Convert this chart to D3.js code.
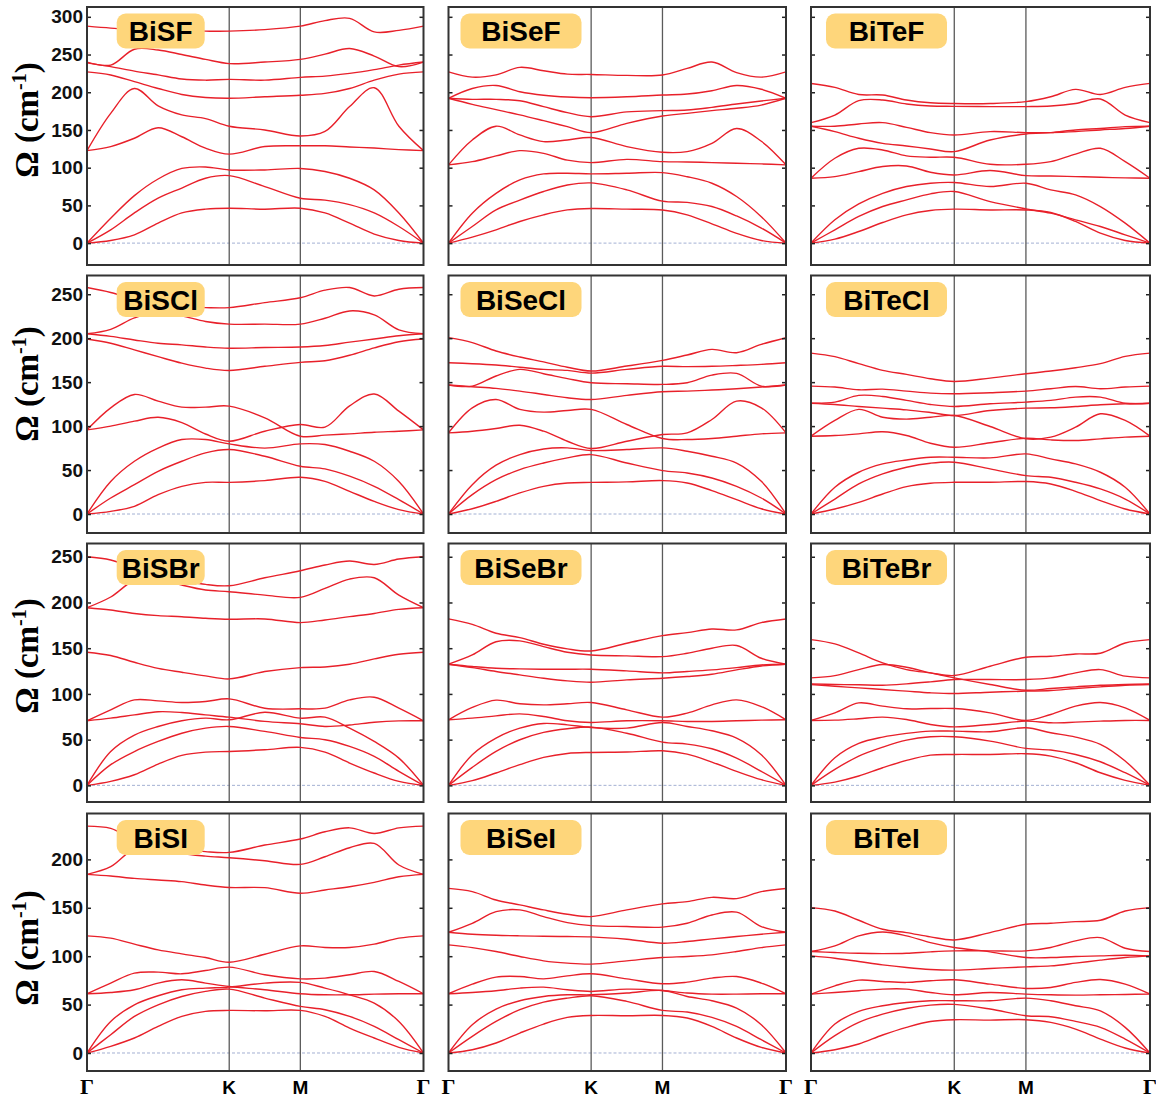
<!DOCTYPE html>
<html>
<head>
<meta charset="utf-8" />
<title>Phonon dispersion BiXY</title>
<script src="https://cdn.jsdelivr.net/npm/d3@7/dist/d3.min.js"></script>
<style>
  body { margin: 0; background: #fff; }
</style>
</head>
<body>
<div id="canvas"></div>
<script>
// k-path sample positions (path length, Γ-K-M-Γ of a hexagonal BZ)
const kpts = [0, 0.2222, 0.4444, 0.6667, 0.8889, 1.1111, 1.3333, 1.6667, 2.0, 2.2309, 2.4619, 2.6928, 2.9238, 3.1547];
const kTicks = [0, 1.3333, 2.0, 3.1547];
const kLabels = ["Γ", "K", "M", "Γ"];

const compounds = [
  ["BiSF", "BiSeF", "BiTeF"],
  ["BiSCl", "BiSeCl", "BiTeCl"],
  ["BiSBr", "BiSeBr", "BiTeBr"],
  ["BiSI", "BiSeI", "BiTeI"]
];
const yTickRows = [
  [0, 50, 100, 150, 200, 250, 300],
  [0, 50, 100, 150, 200, 250],
  [0, 50, 100, 150, 200, 250],
  [0, 50, 100, 150, 200]
];
const yDomainRows = [[-29, 313], [-21.6, 271.3], [-18.2, 264.5], [-18.6, 247.4]];

// phonon branches (cm^-1) at kpts
const BiSF = [
  [287.6, 285, 283, 282, 281.5, 281, 281, 283, 287.6, 295, 298, 280, 282, 287.6],
  [240, 236, 257, 256, 250, 243.5, 238, 240, 243.5, 250.5, 258, 248, 234, 240],
  [239, 234, 228, 223, 217.5, 216, 217, 216, 219.7, 221.4, 225, 230, 236, 240],
  [227, 222.8, 214, 205, 197, 193, 192, 194, 196, 198.5, 205, 216, 224, 227],
  [122.6, 172, 205, 182, 170, 165, 155, 150, 142, 148, 181, 206, 155, 122.6],
  [122.6, 128, 139, 153, 141, 126, 118, 128, 129, 129, 127.5, 126, 124, 122.6],
  [0, 33, 63, 85, 99, 101, 97, 97, 99, 95, 86, 70.6, 40, 0],
  [0, 17.6, 40, 59.5, 73, 86, 89.5, 75, 59.5, 57, 51, 40, 22, 0],
  [0, 3.5, 11, 26.5, 40, 45, 46.3, 45, 46.3, 40, 26.5, 12, 3.5, 0]
];
const BiSeF = [
  [227, 220, 223, 233, 228.5, 224, 223.6, 222.3, 222.8, 231.6, 240, 226, 220, 227],
  [192, 205, 209, 200.7, 196, 193.6, 192.8, 194, 196.3, 197.6, 202, 209, 204, 192],
  [192, 190.6, 190.6, 188.8, 180.9, 173, 167.6, 174, 175.6, 176.4, 180, 184.4, 188.4, 192],
  [192, 184, 177, 170, 162.3, 154.4, 146.5, 158.8, 168.5, 172, 175.6, 178.7, 183, 192],
  [103.7, 136.7, 155, 143.4, 134.5, 136.7, 140, 128, 120.4, 121.3, 132.3, 152, 135, 103.7],
  [103.7, 108, 115.6, 122.6, 119, 110, 106.7, 111, 108, 107.6, 106.7, 105.9, 105, 103.7],
  [0, 39.7, 66, 83.8, 91.8, 92.6, 91.8, 92.6, 93.5, 88, 79.4, 61.8, 35, 0],
  [0, 22, 44, 57, 68.4, 77, 79.8, 70.6, 55.6, 54, 48.5, 36, 20, 0],
  [0, 8, 17.6, 28.7, 37.5, 44, 45.9, 45, 44, 37.5, 25.6, 13, 3.5, 0]
];
const BiTeF = [
  [211.7, 206.4, 197, 196.3, 189.7, 186, 185, 185, 187.5, 194, 203.8, 197, 206.4, 211.7],
  [159.7, 169.8, 188.8, 189.7, 184.4, 181.7, 181.3, 181, 181, 181.7, 185, 191, 169.8, 159.7],
  [155, 155, 158, 159.7, 153.5, 146.5, 143.4, 147.8, 146.5, 146.5, 147.8, 150, 152, 155],
  [155, 147.8, 139, 132.3, 128.8, 124.8, 121.3, 136.7, 144.7, 146.5, 150, 152, 154.4, 155],
  [86, 112.5, 125.7, 123.5, 115.6, 113.8, 113.8, 104.5, 104.5, 108, 118, 125.7, 108, 86],
  [86, 88.2, 94.8, 101.5, 102.3, 94, 90.4, 96.2, 89.5, 89, 88.2, 87.3, 86.5, 86],
  [0, 30.9, 52, 66, 75, 79.4, 80.3, 75, 79.4, 70.6, 64, 48.5, 26.5, 0],
  [0, 17.6, 35.3, 48.5, 57.3, 65.3, 68.4, 55, 45.4, 39.7, 30.9, 22, 11, 0],
  [0, 5.3, 15.4, 27.3, 37.5, 43.2, 45, 44, 44, 40.6, 28.7, 13.2, 3.5, 0]
];
const BiSCl = [
  [257.6, 252, 244, 239, 236, 234.8, 234.8, 240.5, 246, 254.6, 257.6, 248, 255.7, 257.6],
  [205, 210, 223, 230, 225.4, 219, 216, 216, 216, 222.7, 231, 226.5, 209.5, 205],
  [205, 202, 198, 194.3, 192.4, 190, 188.6, 189.4, 190, 191.7, 195.5, 199, 202.7, 205],
  [199, 194.3, 186.7, 179, 171.6, 166, 163.3, 168, 172.5, 174.4, 180.6, 189, 196, 199],
  [95.7, 120.8, 136, 128.4, 121.6, 121.6, 122.7, 109.4, 88.5, 89.7, 91.2, 93, 94.2, 95.7],
  [95.7, 100, 105.6, 110, 104, 91, 82.8, 94.2, 101.8, 98.8, 123, 136.5, 117, 95.7],
  [0, 37, 60, 75, 84.7, 84.7, 79.8, 75, 79.8, 79, 71.4, 60, 37, 0],
  [0, 18.2, 33.4, 48.6, 60, 69.5, 73.3, 65.7, 54.3, 51.3, 43, 31.5, 16.3, 0],
  [0, 3, 8.7, 22, 31.5, 36, 36, 38, 41.8, 37.2, 25.8, 14.4, 5, 0]
];
const BiSeCl = [
  [200.6, 195, 185.4, 178.6, 173, 167, 162.6, 168.3, 174.8, 180.9, 187.3, 183.5, 193, 200.6],
  [172, 171, 169.5, 167, 164.5, 163.4, 160.3, 164.5, 168, 167.6, 168, 169, 170.2, 172],
  [146.7, 145.5, 157, 164.5, 159.6, 154, 149.3, 148.2, 147.4, 149.3, 158, 160, 145.5, 146.7],
  [146.7, 144.8, 142.9, 139.8, 136, 132.2, 130.3, 135, 139, 139.8, 141, 142.5, 144.4, 146.7],
  [92.3, 120.8, 130.3, 119, 115.9, 117.8, 119, 101.8, 85.9, 84.7, 85.9, 88.5, 91.2, 92.3],
  [92.3, 94.2, 97.3, 101, 94.2, 82.8, 74.5, 82.8, 90.4, 92.3, 107.5, 128.4, 120.8, 92.3],
  [0, 33.4, 55.5, 67.6, 74, 75.2, 72.2, 73.3, 75.2, 71.4, 65.7, 58, 37.2, 0],
  [0, 22, 39, 50.5, 58, 63.8, 67.6, 58, 49.4, 46.7, 41, 31.5, 18.2, 0],
  [0, 6, 14.4, 24, 31.5, 35.3, 36, 36.5, 38, 35.3, 26.6, 16.3, 6, 0]
];
const BiTeCl = [
  [183, 179, 171, 163.4, 158.8, 153.9, 150.8, 154.6, 159.6, 162.6, 166.4, 171, 179.3, 183],
  [145.5, 144.4, 141.3, 142, 139.8, 137.5, 136.8, 138, 139.8, 142.5, 145, 142.5, 144.4, 145.5],
  [126.1, 127.3, 134.9, 133.7, 129.2, 124.6, 122.3, 125.4, 127.3, 129.2, 133, 133, 126, 126],
  [126, 124.6, 122.3, 120.4, 118.5, 115.5, 112, 117.8, 120.4, 120.8, 122.3, 124.2, 125.4, 126],
  [88.5, 106.4, 119, 110, 107.9, 110, 112, 99.5, 85.5, 87.4, 98.8, 114, 106.4, 88.5],
  [88.5, 89.3, 91.2, 93.5, 89.3, 80.5, 76, 81, 86.2, 84.3, 83.6, 85.5, 87.4, 88.5],
  [0, 30.4, 47.5, 57, 61.5, 64.6, 64.6, 63.8, 68.4, 62.7, 57, 47.5, 30.4, 0],
  [0, 17, 34.2, 45.6, 53.2, 57.8, 58.9, 51.3, 43.7, 41.8, 36.1, 28.5, 17, 0],
  [0, 5.7, 13.3, 22.8, 31.2, 35, 36.1, 36.1, 36.9, 34.2, 25.8, 15.2, 5.7, 0]
];
const BiSBr = [
  [250, 246.4, 237, 229, 224.5, 219.8, 218.3, 227, 234.7, 241, 245.3, 241.6, 247.5, 250],
  [194.3, 206, 224, 226, 219, 213.6, 211.8, 208, 205.6, 215.4, 225.6, 227, 208, 194.3],
  [194.3, 191.8, 188, 185.6, 184.4, 182.7, 181.6, 182, 178, 180.9, 184.5, 188, 192.5, 194.3],
  [145.6, 142, 134.6, 128, 123.7, 119.7, 116.4, 124.5, 128.8, 129.5, 132.5, 138.3, 143.4, 145.6],
  [70.6, 82.6, 93.5, 92.4, 90.6, 91.7, 94.6, 84.4, 83.7, 84.4, 93.5, 96.4, 84.4, 70.6],
  [70.6, 73.5, 77.1, 80.5, 79.7, 77.1, 74.6, 70, 67.3, 64.4, 66, 69, 70.5, 70.6],
  [0, 37, 55, 64.4, 70.6, 73.5, 71.7, 80, 73.5, 74.6, 62.6, 48, 29.8, 0],
  [0, 22.6, 37, 48, 57, 62.6, 64.4, 59, 52.4, 49.9, 42.6, 31.7, 15.3, 0],
  [0, 4.4, 11.6, 23.3, 32.8, 36.4, 37.1, 39, 41.5, 36.4, 24.4, 13.5, 4.4, 0]
];
const BiSeBr = [
  [182, 176, 166.3, 161.6, 154.3, 149.2, 147, 155.4, 163.8, 167, 171, 170, 178, 182],
  [132.5, 142.6, 157, 158, 151.7, 145.6, 142.6, 141.6, 140.8, 144.5, 150, 153, 139, 132.5],
  [132.5, 130, 128, 127.4, 127, 127, 127, 125.2, 123, 124.5, 126.3, 128.8, 131.7, 132.5],
  [132.5, 128.8, 124.5, 120.8, 117.2, 114.3, 112.8, 115.4, 117.2, 119, 121.5, 126.3, 130.6, 132.5],
  [71.7, 85.2, 93.2, 89.2, 88, 89.2, 90.6, 82.6, 74.6, 79, 88, 93.5, 86.2, 71.7],
  [71.7, 73.5, 76, 78.2, 75.3, 70.6, 68.8, 70.6, 70.6, 69.9, 69.9, 70.6, 71.3, 71.7],
  [0, 33.5, 51.7, 62.6, 67.7, 66.2, 63.3, 62.6, 68.8, 64.4, 59.7, 51.7, 33.5, 0],
  [0, 19.7, 37.1, 49.9, 57.9, 61.9, 63.7, 57, 47.3, 45.1, 40, 29.8, 15.3, 0],
  [0, 5.1, 13.5, 22.6, 30.6, 34.9, 36, 36.4, 37.8, 34.2, 25.5, 15.3, 6.2, 0]
];
const BiTeBr = [
  [159.4, 154.7, 144.8, 133.9, 126.6, 123, 120.1, 130.3, 140.1, 141.2, 143.7, 144.5, 155.7, 159.4],
  [117.5, 120, 126.6, 132.1, 129.2, 123, 117.5, 110.3, 104, 105.9, 107.7, 109.5, 110.3, 111],
  [111, 110.3, 110, 109.5, 111, 113.2, 115.7, 115.7, 115.7, 117.5, 123, 126.6, 119.4, 117.5],
  [110.3, 108.4, 106.6, 104.8, 103, 101.2, 100.4, 101.9, 103, 103.7, 105.9, 107.7, 109.5, 110.3],
  [71, 79.3, 90.2, 86.6, 83.7, 84, 84, 79.3, 71, 77.5, 86.6, 90.6, 84.8, 71],
  [71, 71.3, 72.8, 74.6, 72, 66.6, 64, 66.6, 70.2, 68.4, 69.1, 70.2, 71, 71],
  [0, 30.2, 45.9, 52.8, 56.8, 59.3, 59.3, 58.6, 63, 57.5, 52.8, 44.8, 26.6, 0],
  [0, 17.5, 32, 41.8, 49.5, 53.1, 53.1, 48.4, 40.4, 38.6, 33.8, 25.8, 13.8, 0],
  [0, 3.6, 10.2, 19.3, 27.3, 33.1, 33.8, 33.8, 34.6, 32, 24.7, 13.8, 5.5, 0]
];
const BiSI = [
  [234.4, 232, 220, 213, 210.7, 208, 207.2, 214.8, 221, 228.5, 232.6, 226.8, 232.6, 234.4],
  [184.5, 192.4, 210.7, 211.3, 206, 203.4, 201.7, 198.6, 194.8, 202.7, 212, 216.5, 194.2, 184.5],
  [184.5, 182.8, 180.4, 178.7, 177, 173.5, 171, 170.8, 165, 168.4, 171.8, 176.3, 182, 184.5],
  [121, 118.6, 112.4, 106.5, 102.4, 98.6, 93.8, 102, 110.7, 109, 109, 112.4, 118.6, 121],
  [61.2, 72.2, 82.5, 83.5, 81.8, 85.2, 88.7, 80.8, 76.6, 77.3, 80.8, 84.2, 73.9, 61.2],
  [61.2, 62.5, 65.3, 72.2, 75.6, 72.2, 68.7, 65.3, 61.2, 60.1, 60.1, 60.8, 61.2, 61.2],
  [0, 32.6, 49.8, 59.1, 65.3, 67, 68, 72.2, 72.9, 67, 60.1, 51.5, 32.6, 0],
  [0, 18.9, 37.8, 49.8, 58.4, 63.6, 66, 56.7, 48.1, 44.7, 37.8, 27.5, 13.7, 0],
  [0, 6.9, 15.5, 27.5, 37.8, 43, 44, 43.6, 44, 37.8, 25.8, 15.5, 5.8, 0]
];
const BiSeI = [
  [170, 166.7, 158, 153, 147.8, 143.3, 140.9, 147.8, 154, 156.4, 160.8, 159.5, 166.7, 170],
  [124.7, 134, 146, 147.8, 140.9, 134.7, 131.6, 130.6, 130, 134, 142.6, 145.5, 130.6, 124.7],
  [124.7, 122.7, 121.6, 121, 120.6, 120.3, 120, 117.5, 113.4, 115.1, 117.9, 120.3, 122.7, 124.7],
  [111.7, 108.9, 104.8, 99.7, 95.2, 92.8, 91.8, 95.2, 98.6, 99.7, 101.4, 104.8, 108.9, 111.7],
  [61.2, 71.1, 78.4, 79, 76.6, 79.7, 81.8, 76.6, 71.5, 73.2, 77.3, 79, 72.2, 61.2],
  [61.2, 62.5, 64.3, 67, 68, 65.3, 63.6, 66, 64.6, 61.9, 60.8, 60.8, 61.2, 61.2],
  [0, 29.2, 45.4, 54, 58.4, 60.1, 60.1, 61.9, 64.6, 58.4, 54, 46.4, 29.2, 0],
  [0, 17.2, 32.6, 44.7, 52.6, 56.7, 59.1, 53.3, 44, 42.3, 36.8, 27.5, 13.7, 0],
  [0, 3.4, 10.3, 20.6, 29.9, 36.8, 38.8, 38.5, 38.8, 36.1, 27.5, 15.5, 5.8, 0]
];
const BiTeI = [
  [150.2, 146.7, 137.1, 127.8, 124.4, 119.9, 116.8, 124.4, 133, 134, 135.7, 137.1, 146.7, 150.2],
  [104.8, 110.7, 121, 125, 121, 114, 109, 104.5, 98.6, 98.6, 99.7, 100.3, 101, 100.3],
  [104.8, 103.8, 103, 102.7, 103, 104.5, 105.5, 105.5, 105.5, 109, 115.8, 119.2, 108.2, 104.8],
  [100.3, 97.9, 94.5, 91, 88.3, 86.3, 85.6, 87.3, 89, 90, 92.8, 95.9, 98.6, 100.3],
  [60.8, 69.4, 75.3, 73.9, 72.9, 74.6, 75.6, 71.1, 66.7, 67.7, 72.9, 75.9, 71.1, 60.8],
  [60.8, 62.5, 64.3, 66, 66, 62.5, 60.1, 62.5, 60.8, 60.1, 59.8, 60.1, 60.5, 60.8],
  [0, 29.9, 43, 48.8, 52.2, 54, 54, 54, 56.7, 54, 48.8, 43.6, 26.5, 0],
  [0, 17.9, 31.6, 40.2, 46, 49.5, 50.2, 45.4, 38.5, 37.5, 32.6, 26.5, 14.4, 0],
  [0, 3.4, 9.3, 18.6, 26.5, 32.6, 34.4, 34, 34.4, 31.6, 24.7, 14.4, 5.2, 0]
];

const bands = { BiSF, BiSeF, BiTeF, BiSCl, BiSeCl, BiTeCl, BiSBr, BiSeBr, BiTeBr, BiSI, BiSeI, BiTeI };

// layout
const width = 1156, height = 1098;
const colX = [87, 448.5, 811], colW = [336.5, 337.5, 339];
const rowY = [7, 275.5, 543.5, 813.5], rowH = [258, 257.5, 258.5, 257.5];
const rowLabelY = [120, 384, 656, 948];
const boxX = [29.7, 12, 15], boxW = [88, 121, 121];
const lineColor = "#e8202a";
const sansBold = "'Liberation Sans', Arial, Helvetica, sans-serif";
const serif = "'Liberation Serif', 'Times New Roman', serif";

const svg = d3.select("#canvas").append("svg")
  .attr("width", width)
  .attr("height", height)
  .attr("viewBox", [0, 0, width, height])
  .style("background", "#fff");

compounds.forEach((row, r) => {
  const y = d3.scaleLinear().domain(yDomainRows[r]).range([rowY[r] + rowH[r], rowY[r]]);

  row.forEach((name, c) => {
    const x = d3.scaleLinear().domain([0, kpts[kpts.length - 1]]).range([colX[c], colX[c] + colW[c]]);
    const g = svg.append("g");
    const clipId = "clip-" + name;
    g.append("clipPath").attr("id", clipId)
      .append("rect")
      .attr("x", colX[c]).attr("y", rowY[r])
      .attr("width", colW[c]).attr("height", rowH[r]);

    // zero line
    g.append("line")
      .attr("x1", x(0)).attr("x2", x(kpts[kpts.length - 1]))
      .attr("y1", y(0)).attr("y2", y(0))
      .attr("stroke", "#8c9cc8").attr("stroke-width", 0.8)
      .attr("stroke-dasharray", "3,2");

    // high-symmetry lines at K and M
    g.selectAll(".hs").data(kTicks.slice(1, 3)).join("line")
      .attr("x1", d => x(d)).attr("x2", d => x(d))
      .attr("y1", rowY[r]).attr("y2", rowY[r] + rowH[r])
      .attr("stroke", "#5a5a5a").attr("stroke-width", 1.3);

    // phonon branches
    const line = d3.line()
      .x((d, i) => x(kpts[i]))
      .y(d => y(d))
      .curve(d3.curveCatmullRom.alpha(0.5));
    g.append("g").attr("clip-path", `url(#${clipId})`)
      .selectAll("path").data(bands[name]).join("path")
      .attr("d", line)
      .attr("fill", "none")
      .attr("stroke", lineColor)
      .attr("stroke-width", 1.4);

    // ticks
    const left = g.append("g").attr("transform", `translate(${colX[c]},0)`)
      .call(d3.axisLeft(y).tickValues(yTickRows[r]).tickSize(-4).tickPadding(4)
        .tickFormat(c === 0 ? d3.format("d") : ""));
    left.select(".domain").remove();
    left.selectAll(".tick line").attr("stroke", "#222").attr("stroke-width", 1.5);
    left.selectAll(".tick text")
      .attr("font-family", sansBold).attr("font-weight", "bold")
      .attr("font-size", 19).attr("fill", "#111");

    const right = g.append("g").attr("transform", `translate(${colX[c] + colW[c]},0)`)
      .call(d3.axisRight(y).tickValues(yTickRows[r]).tickSize(-4).tickFormat(""));
    right.select(".domain").remove();
    right.selectAll(".tick line").attr("stroke", "#222").attr("stroke-width", 1.5);

    // frame
    g.append("rect")
      .attr("x", colX[c]).attr("y", rowY[r])
      .attr("width", colW[c]).attr("height", rowH[r])
      .attr("fill", "none").attr("stroke", "#333").attr("stroke-width", 2);

    // compound label
    const bx = colX[c] + boxX[c], by = rowY[r] + 6.5;
    g.append("rect")
      .attr("x", bx).attr("y", by)
      .attr("width", boxW[c]).attr("height", 35)
      .attr("rx", 9)
      .attr("fill", "#fed67b");
    g.append("text")
      .attr("x", bx + boxW[c] / 2).attr("y", by + 27.5)
      .attr("text-anchor", "middle")
      .attr("font-family", sansBold).attr("font-weight", "bold")
      .attr("font-size", 28).attr("fill", "#000")
      .text(name);

    // k labels on the bottom row
    if (r === compounds.length - 1) {
      g.selectAll(".klab").data(kTicks).join("text")
        .attr("x", d => x(d))
        .attr("y", rowY[r] + rowH[r] + 23)
        .attr("text-anchor", "middle")
        .attr("font-weight", "bold")
        .attr("font-family", (d, i) => (kLabels[i] === "Γ" ? serif : sansBold))
        .attr("font-size", (d, i) => (kLabels[i] === "Γ" ? 22 : 19))
        .attr("fill", "#000")
        .text((d, i) => kLabels[i]);
    }
  });

  // y axis title
  const t = svg.append("text")
    .attr("transform", `translate(38,${rowLabelY[r]}) rotate(-90)`)
    .attr("text-anchor", "middle")
    .attr("font-family", serif).attr("font-weight", "bold")
    .attr("font-size", 33).attr("fill", "#000");
  t.append("tspan").text("Ω (cm");
  t.append("tspan").attr("dy", -12).attr("font-size", 20).text("-1");
  t.append("tspan").attr("dy", 12).text(")");
});
</script>
</body>
</html>
